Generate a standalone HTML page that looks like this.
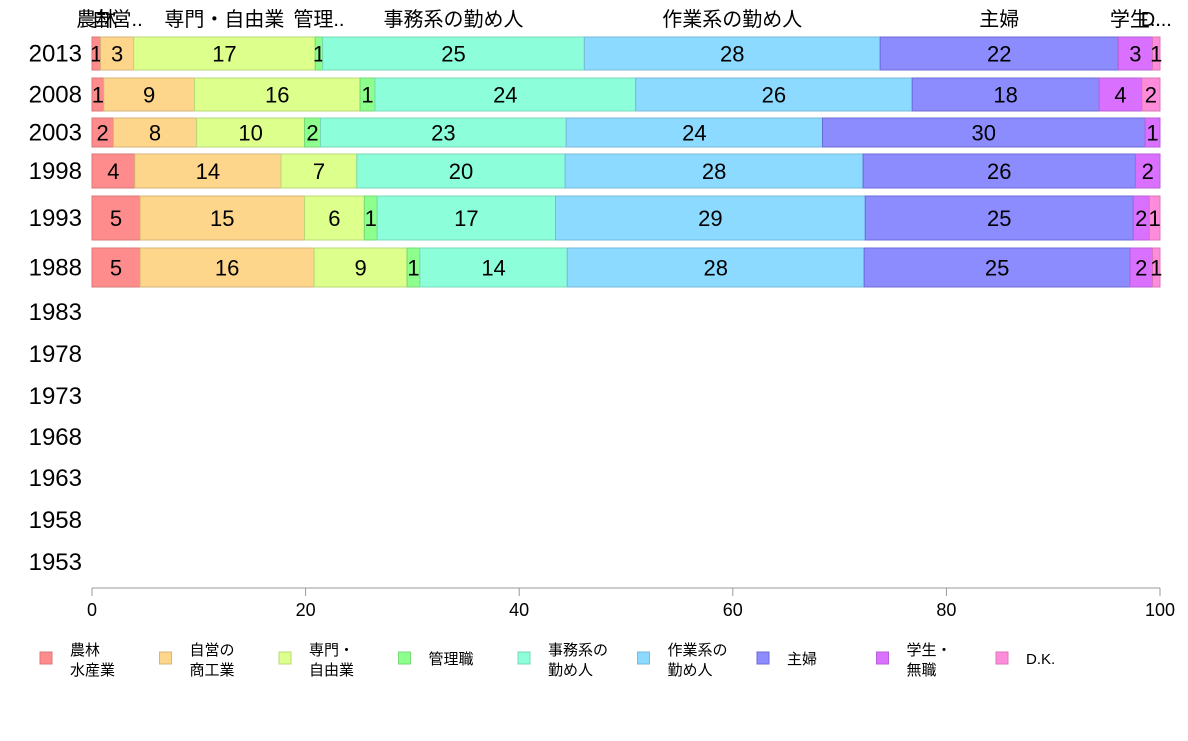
<!DOCTYPE html>
<html><head><meta charset="utf-8"><style>
body{margin:0;background:#fff;font-family:"Liberation Sans","Noto Sans CJK JP",sans-serif;}
svg text{font-family:"Liberation Sans","Noto Sans CJK JP",sans-serif;}
</style></head><body>
<svg id="c" width="1188" height="736"></svg>
<script>
const categories=["農林\n水産業","自営の\n商工業","専門・\n自由業","管理職","事務系の\n勤め人","作業系の\n勤め人","主婦","学生・\n無職","D.K."];
const headerLabels=["農林","自営..","専門・自由業","管理..","事務系の勤め人","作業系の勤め人","主婦","学生..","D..."];
const colors=["#ff8c8c","#fdd68c","#ddff8c","#8cff8c","#8cffda","#8cdaff","#8c8cff","#da70ff","#ff8cda"];
const strokes=["#d97777","#d6b577","#b9d977","#77d977","#77d9b9","#77b9d9","#6b6bd9","#b95fd9","#d977b9"];
const years=["2013","2008","2003","1998","1993","1988","1983","1978","1973","1968","1963","1958","1953"];
const v2013=[0.8,3.1,17.0,0.7,24.5,27.7,22.3,3.2,0.7];
const v2008=[1.1,8.5,15.5,1.4,24.4,25.9,17.5,4.0,1.7];
const v2003=[2.0,7.8,10.1,1.5,23.0,24.0,30.2,1.4,0];
const v1998=[4.0,13.7,7.1,0,19.5,27.9,25.5,2.3,0];
const v1993=[4.5,15.4,5.6,1.2,16.7,29.0,25.1,1.5,1.0];
const v1988=[4.5,16.3,8.7,1.2,13.8,27.8,24.9,2.1,0.7];
const series=[v2013,v2008,v2003,v1998,v1993,v1988];
const xTicks=[0,20,40,60,80,100];
const rowBounds=[[37,70],[78,111],[118,147],[154,188],[196,240],[248,287]];
const emptyY=[312,354,396,437,478,520,562];
const NS="http://www.w3.org/2000/svg";
const svg=document.getElementById("c");
const X0=92,X1=1160;
const x=v=>X0+(X1-X0)*v/100;
function mk(tag,attrs,parent){const e=document.createElementNS(NS,tag);for(const k in attrs)e.setAttribute(k,attrs[k]);(parent||svg).appendChild(e);return e;}
// bars
series.forEach((vals,r)=>{
  const g=mk("g",{});
  
  
  const [t,b]=rowBounds[r];let acc=0;
  vals.forEach((v,i)=>{
    if(v<=0){acc+=v;return;}
    const rc=mk("rect",{x:x(acc),y:t,width:x(acc+v)-x(acc),height:b-t,fill:colors[i],stroke:strokes[i],"stroke-width":1},g);
    
    
    const tx=mk("text",{x:(x(acc)+x(acc+v))/2,y:(t+b)/2+8,"text-anchor":"middle","font-size":22,fill:"#000"},g);
    tx.textContent=Math.round(v)||1;
    
    
    acc+=v;
  });
  const yl=mk("text",{x:82,y:(t+b)/2+8,"text-anchor":"end","font-size":24,fill:"#000"});
  yl.textContent=years[r];
  
  
});
emptyY.forEach((cy,i)=>{
  const yl=mk("text",{x:82,y:cy+8,"text-anchor":"end","font-size":24,fill:"#000"});
  yl.textContent=years[6+i];
  
  
});
// header labels from 2013 row
{let acc=0;v2013.forEach((v,i)=>{
  const h=mk("text",{x:(x(acc)+x(acc+v))/2,y:26,"text-anchor":"middle","font-size":20,fill:"#000"});
  h.textContent=headerLabels[i];
  
  
  acc+=v;});}
// axis
const ax=mk("line",{x1:X0,x2:X1,y1:588,y2:588,stroke:"#999"});


xTicks.forEach(tv=>{
  const l=mk("line",{x1:x(tv),x2:x(tv),y1:588,y2:596,stroke:"#999"});
  
  
  const t=mk("text",{x:x(tv),y:616,"text-anchor":"middle","font-size":18,fill:"#000"});
  t.textContent=tv;
  
  
});
// legend
categories.forEach((c,i)=>{
  const gx=40+i*119.5;
  const g=mk("g",{});
  
  
  mk("rect",{x:gx,y:652,width:12,height:12,fill:colors[i],stroke:strokes[i]},g);
  const lines=c.split("\n");
  lines.forEach((ln,k)=>{
    const t=mk("text",{x:gx+30,y:(lines.length===1?664:655+k*20),"font-size":15,fill:"#000"},g);
    t.textContent=ln;
  });
});
</script>
</body></html>
